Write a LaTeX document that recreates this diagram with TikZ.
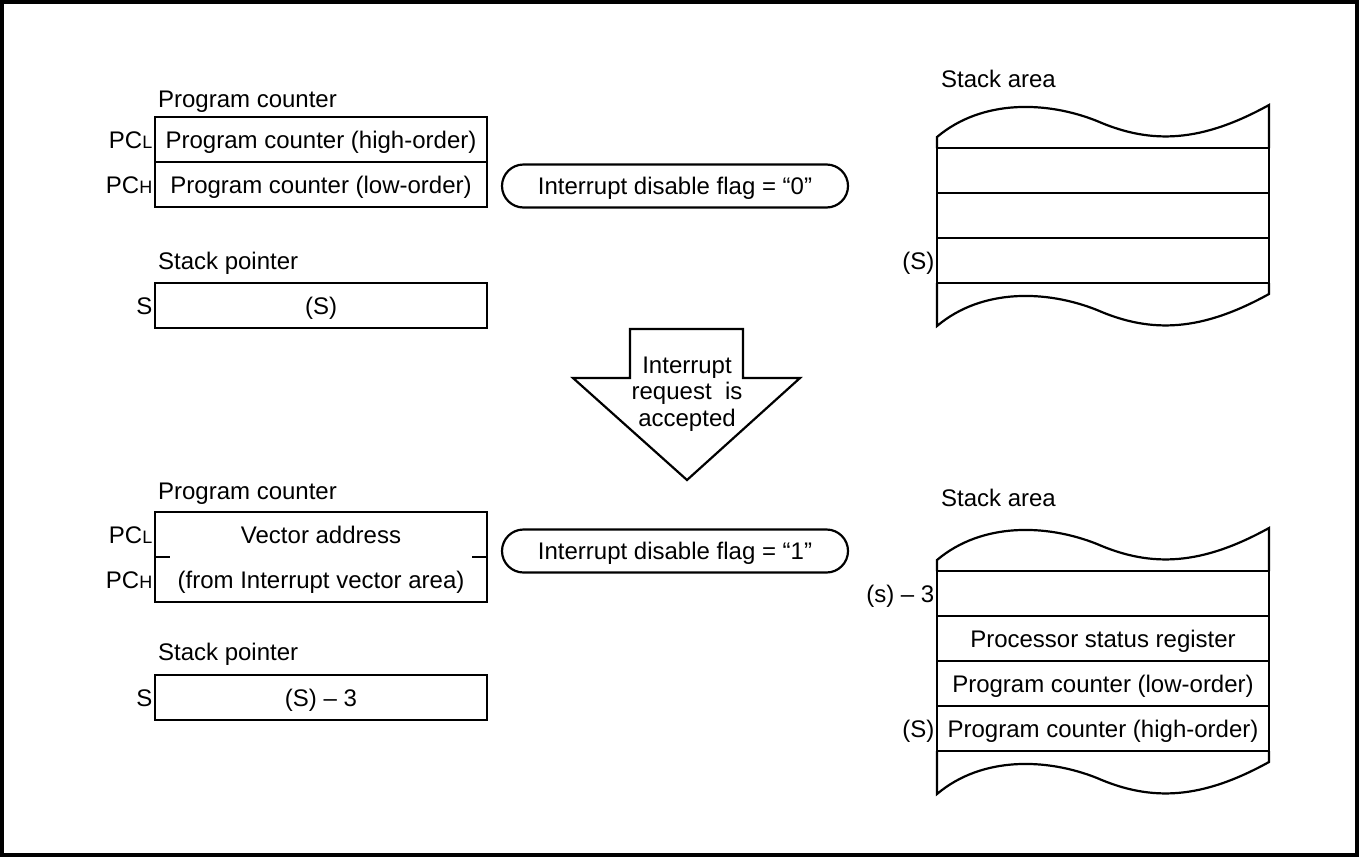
\documentclass[tikz,border=0pt]{standalone}
\usepackage{fontspec}
\setmainfont{Liberation Sans}
\usetikzlibrary{positioning, shapes.misc}

\newcommand\pcsub[1]{PC{\fontsize{9}{9}\selectfont #1}}

\begin{document}
\begin{tikzpicture}[x=0.5pt,y=-0.5pt,line width=1.1pt,node distance=0pt,
    font=\fontsize{12}{13.3}\selectfont,
    reg/.style={draw,minimum width=166pt,minimum height=22.5pt,inner sep=0pt,outer sep=0pt,
        text height=8.6pt,text depth=0pt},
    cell/.style={reg},
    ttl/.style={anchor=base west,inner sep=0pt},
    lab/.style={inner sep=0.8pt,text height=8.6pt,text depth=0pt},
    flag/.style={draw,rounded rectangle,minimum width=173pt,minimum height=21.5pt,inner sep=0pt,
        text height=8.6pt,text depth=0pt}]
    \useasboundingbox (0,0) rectangle (1359,857);
    \draw[line width=2pt] (2,2) rectangle (1357,855);

    % before the interrupt
    \node[reg] (pcl0) at (321,139.5) {Program counter (high-order)};
    \node[reg] (pch0) [below=of pcl0] {Program counter (low-order)};
    \node[lab] (pcl0lab) [left=of pcl0] {\pcsub{L}};
    \node[lab] (pch0lab) [left=of pch0] {\pcsub{H}};
    \node[ttl] (pc0ttl) at ([shift={(2,-10)}]pcl0.north west) {Program counter};

    \node[reg] (sp0) at (321,305.5) {(S)};
    \node[lab] (sp0lab) [left=of sp0] {S};
    \node[ttl] (sp0ttl) at ([shift={(2,-14)}]sp0.north west) {Stack pointer};

    \node[flag] (flag0) at (675,186) {Interrupt disable flag = “0”};

    \node[cell] (st1) at (1103,170.5) {};
    \node[cell] (st2) [below=of st1] {};
    \node[cell] (st3) [below=of st2] {};
    \node[lab] (st3lab) [left=of st3] {(S)};
    \node[ttl] (st0ttl) at ([shift={(3,-61)}]st1.north west) {Stack area};

    % interrupt accepted
    \draw[fill=white] (630,329) -- (630,378) -- (573,378) -- (687,480)
        -- (800,378) -- (743,378) -- (743,329) -- cycle;
    \node[align=center] (req) at (687,394) {Interrupt\\request~~is\\accepted};

    % after the interrupt
    \node[reg,draw=none] (pcl1) at (321,534.5) {Vector address};
    \node[reg,draw=none] (pch1) [below=of pcl1] {(from Interrupt vector area)};
    \draw (pcl1.north west) rectangle (pch1.south east);
    \draw (pcl1.south west) -- ++(15,0) (pcl1.south east) -- ++(-15,0);
    \node[lab] (pcl1lab) [left=of pcl1] {\pcsub{L}};
    \node[lab] (pch1lab) [left=of pch1] {\pcsub{H}};
    \node[ttl] (pc1ttl) at ([shift={(2,-13)}]pcl1.north west) {Program counter};

    \node[reg] (sp1) at (321,697.5) {(S) – 3};
    \node[lab] (sp1lab) [left=of sp1] {S};
    \node[ttl] (sp1ttl) at ([shift={(2,-15)}]sp1.north west) {Stack pointer};

    \node[flag] (flag1) at (675,551) {Interrupt disable flag = “1”};

    \node[cell] (sb1) at (1103,593.5) {};
    \node[cell] (sb2) [below=of sb1] {Processor status register};
    \node[cell] (sb3) [below=of sb2] {Program counter (low-order)};
    \node[cell] (sb4) [below=of sb3] {Program counter (high-order)};
    \node[lab] (sb1lab) [left=of sb1] {(s) – 3};
    \node[lab] (sb4lab) [left=of sb4] {(S)};
    \node[ttl] (sb0ttl) at ([shift={(3,-65)}]sb1.north west) {Stack area};

    % torn edges of the stack areas
    \foreach \a/\b in {st1/st3, sb1/sb4} {
        \draw (\a.north west) -- ++(0,-11) .. controls +(45,-38) and +(-50,-20) .. ++(160,-16)
            .. controls +(55,24) and +(-67,37) .. ++(172,-16) -- (\a.north east);
        \draw (\b.south west) -- ++(0,43) .. controls +(45,-38) and +(-50,-20) .. ++(160,-16)
            .. controls +(55,24) and +(-67,37) .. ++(172,-16) -- (\b.south east);
    }
\end{tikzpicture}
\end{document}
